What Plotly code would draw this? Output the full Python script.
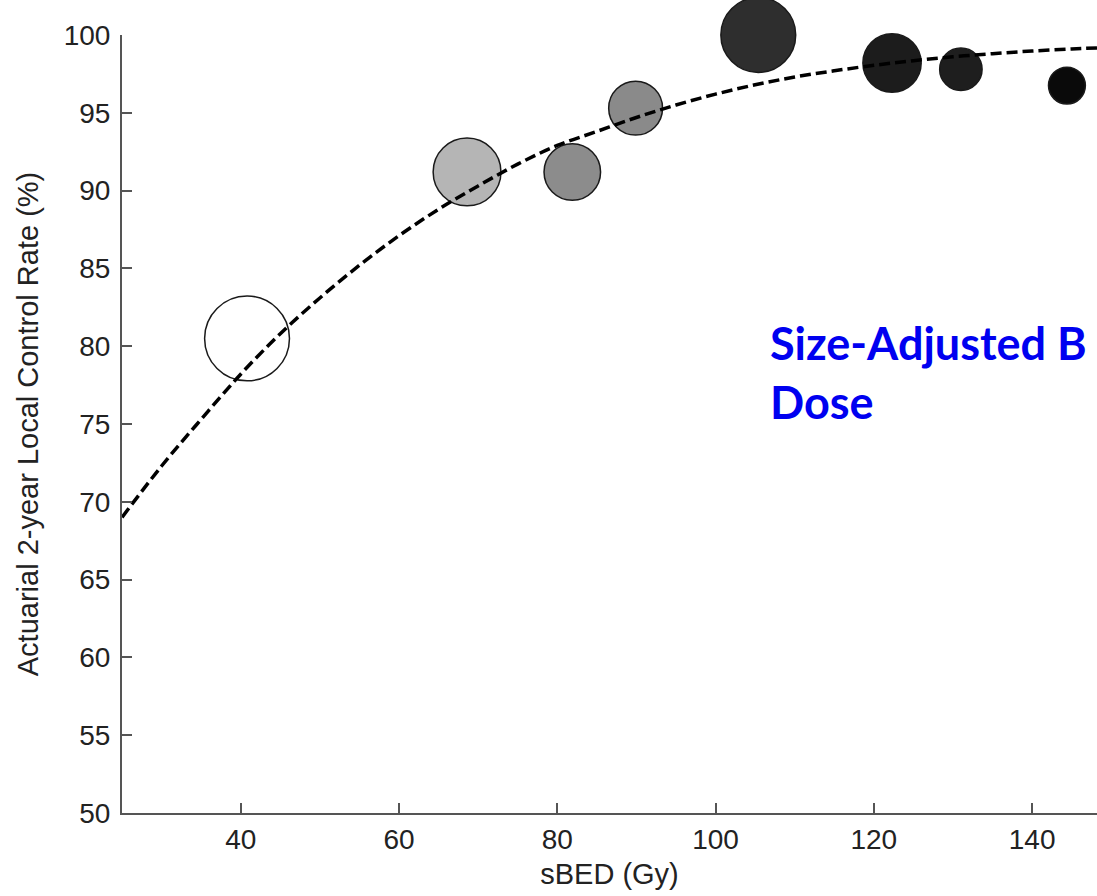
import plotly.graph_objects as go

sbed_gy = [40.8, 68.6, 81.9, 89.9, 105.4, 122.3, 131.0, 144.4]
local_control_pct = [80.5, 91.2, 91.2, 95.3, 100.0, 98.2, 97.8, 96.75]
cohort_weight = [36, 23, 16, 14.5, 28, 17, 9, 6.8]

# Fitted dose-response curve
fit_sbed = [25, 30, 35, 40, 45, 50, 55, 60, 65, 70, 75, 80, 85, 90, 95, 100,
            105, 110, 115, 120, 125, 130, 135, 140, 145, 148.2]
fit_lcr = [69.0, 72.3, 75.3, 78.2, 80.8, 83.1, 85.2, 87.1, 88.8, 90.3, 91.7, 92.9,
           93.8, 94.7, 95.5, 96.2, 96.8, 97.3, 97.7, 98.05, 98.35, 98.6, 98.8,
           98.97, 99.1, 99.17]

x_ticks = [40, 60, 80, 100, 120, 140]
y_ticks = [50, 55, 60, 65, 70, 75, 80, 85, 90, 95, 100]

marker_fills = ["#ffffff", "#b5b5b5", "#8c8c8c", "#8a8a8a", "#2e2e2e", "#1c1c1c", "#1e1e1e", "#0a0a0a"]

axis_color = "#555555"
text_color = "#222222"
font_family = "Liberation Sans, Arial, sans-serif"

fig = go.Figure()
fig.add_trace(go.Scatter(
    x=sbed_gy, y=local_control_pct, mode="markers",
    marker=dict(size=cohort_weight, sizemode="area", sizeref=0.01, opacity=1,
                color=marker_fills, line=dict(color="#1a1a1a", width=1.5)),
    cliponaxis=False, showlegend=False,
))
fig.add_trace(go.Scatter(
    x=fit_sbed, y=fit_lcr, mode="lines", line_shape="spline",
    line=dict(color="#000000", width=3.5, dash="11px,5px"),
    showlegend=False,
))

fig.update_layout(
    width=1097, height=896,
    margin=dict(l=122, r=0, t=35, b=83),
    plot_bgcolor="white", paper_bgcolor="white",
    font=dict(family=font_family, color=text_color, size=28),
    xaxis=dict(
        range=[25, 148.2], tickvals=x_ticks, ticks="inside", ticklen=10, tickwidth=2,
        tickcolor=axis_color, showline=True, linecolor=axis_color, linewidth=2,
        showgrid=False, zeroline=False, tickfont=dict(size=28, color=text_color),
        ticklabelstandoff=0,
        title=dict(text="sBED (Gy)", font=dict(size=29, color=text_color), standoff=10),
    ),
    yaxis=dict(
        range=[50, 100], tickvals=y_ticks, ticks="inside", ticklen=10, tickwidth=2,
        tickcolor=axis_color, showline=True, linecolor=axis_color, linewidth=2,
        showgrid=False, zeroline=False, tickfont=dict(size=28, color=text_color),
        ticklabelstandoff=4,
        title=dict(text="Actuarial 2-year Local Control Rate (%)",
                   font=dict(size=29, color=text_color), standoff=17),
    ),
    annotations=[dict(
        text="Size-Adjusted B<br>Dose", xref="paper", yref="paper",
        x=0.6626, y=0.566, xanchor="left", yanchor="middle", align="left",
        showarrow=False,
        font=dict(family="Lato, Noto Sans, sans-serif", size=45, color="#0000f0", weight="bold"),
    )],
)

fig.write_html("out.html")
